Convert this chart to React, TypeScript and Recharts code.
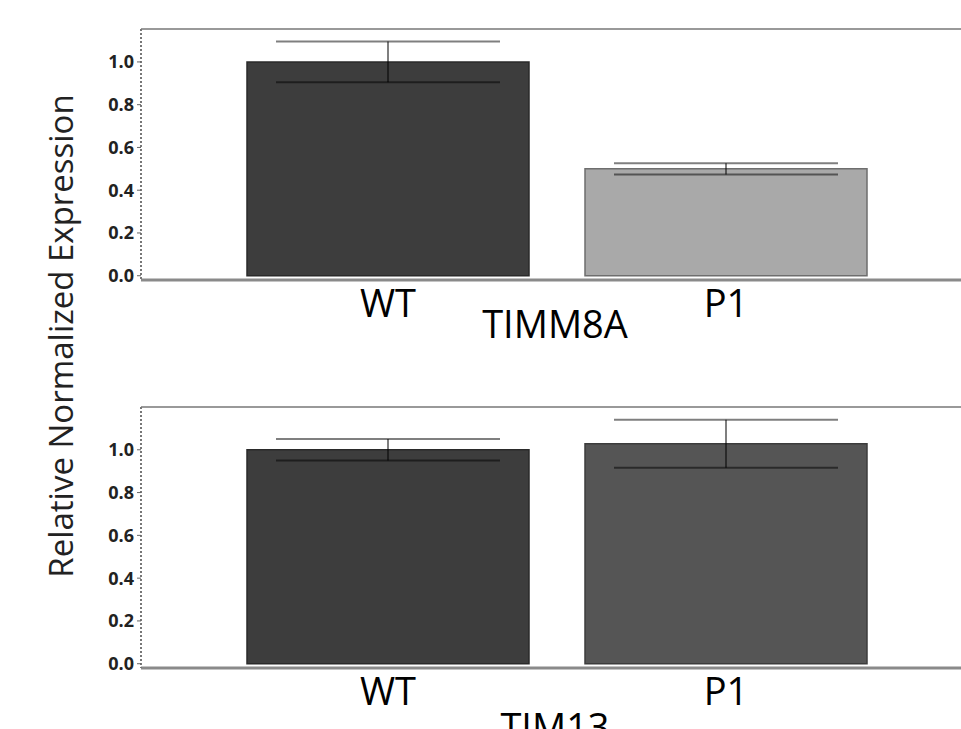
import React from "react";
import { BarChart, Bar, XAxis, YAxis, ErrorBar, Cell, Label, ReferenceLine } from "recharts";

const categories = ["WT", "P1"];
const timm8aMean = [1.0, 0.5];
const timm8aErr = [0.095, 0.026];
const tim13Mean = [1.0, 1.028];
const tim13Err = [0.05, 0.112];
const yTicks = [0, 0.2, 0.4, 0.6, 0.8, 1.0];

const FONT = "'Open Sans', sans-serif";

const timm8aData = categories.map((name, i) => ({ name, value: timm8aMean[i], err: timm8aErr[i] }));
const tim13Data = categories.map((name, i) => ({ name, value: tim13Mean[i], err: tim13Err[i] }));

type PanelProps = {
  data: { name: string; value: number; err: number }[];
  gene: string;
  yMax: number;
  plotHeight: number;
  axisHeight: number;
  fills: string[];
  strokes: string[];
};

const Panel = ({ data, gene, yMax, plotHeight, axisHeight, fills, strokes }: PanelProps) => {
  return (
    <BarChart
      width={961}
      height={29 + plotHeight + axisHeight}
      data={data}
      margin={{ top: 29, right: 0, left: 0, bottom: 0 }}
    >
      <XAxis
        dataKey="name"
        height={axisHeight}
        padding={{ left: 78, right: 66 }}
        tickLine={false}
        tickSize={0}
        tickMargin={10}
        axisLine={{ stroke: "#8a8a8a", strokeWidth: 3 }}
        tick={{ fontSize: 38, fontWeight: 500, fill: "#000", fontFamily: FONT }}
      >
        <Label
          value={gene}
          position="insideBottom"
          offset={12}
          dx={4}
          style={{ fontSize: 38, fontWeight: 500, fill: "#000", fontFamily: FONT }}
        />
      </XAxis>
      <YAxis
        width={141}
        domain={[-0.02, yMax]}
        ticks={yTicks}
        allowDataOverflow
        tickFormatter={(v: number) => v.toFixed(1)}
        tickSize={4}
        tickMargin={3}
        tickLine={{ stroke: "#666" }}
        axisLine={{ stroke: "#777", strokeWidth: 2, strokeDasharray: "2 2" }}
        tick={{ fontSize: 18, fontWeight: 700, fill: "#222", fontFamily: FONT }}
      />
      <ReferenceLine y={yMax} stroke="#999" strokeWidth={2} ifOverflow="visible" />
      <Bar dataKey="value" barSize={282} isAnimationActive={false} strokeWidth={1.5}>
        {data.map((d, i) => (
          <Cell key={d.name} fill={fills[i]} stroke={strokes[i]} />
        ))}
        <ErrorBar
          dataKey="err"
          direction="y"
          width={112}
          stroke="rgba(0,0,0,0.5)"
          strokeWidth={2}
          isAnimationActive={false}
        />
      </Bar>
    </BarChart>
  );
};

export default function App() {
  return (
    <div
      style={{
        position: "absolute",
        left: 0,
        top: 0,
        width: 961,
        height: 729,
        overflow: "hidden",
        background: "#fff",
      }}
    >
      <div style={{ position: "absolute", left: 0, top: 0 }}>
        <Panel
          data={timm8aData}
          gene="TIMM8A"
          yMax={1.154}
          plotHeight={251}
          axisHeight={70}
          fills={["#3d3d3d", "#a9a9a9"]}
          strokes={["#2a2a2a", "#6e6e6e"]}
        />
      </div>
      <div style={{ position: "absolute", left: 0, top: 378 }}>
        <Panel
          data={tim13Data}
          gene="TIM13"
          yMax={1.2}
          plotHeight={261}
          axisHeight={85}
          fills={["#3d3d3d", "#555555"]}
          strokes={["#2a2a2a", "#3c3c3c"]}
        />
      </div>
      <svg
        width={110}
        height={729}
        style={{ position: "absolute", left: 0, top: 0 }}
      >
        <text
          x={0}
          y={0}
          transform="translate(73, 336) rotate(-90)"
          textAnchor="middle"
          fontSize={33}
          fontFamily={FONT}
          fill="#222"
        >
          Relative Normalized Expression
        </text>
      </svg>
    </div>
  );
}
